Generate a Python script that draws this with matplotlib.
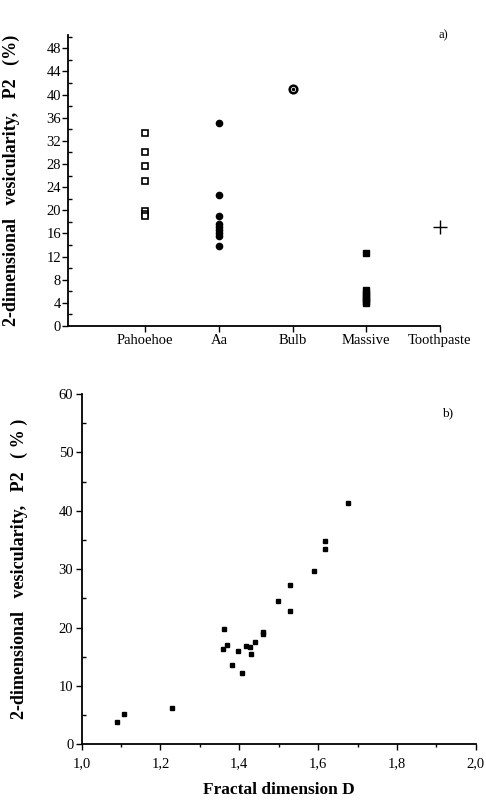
import matplotlib
matplotlib.use("Agg")
import matplotlib.pyplot as plt
from matplotlib.ticker import MultipleLocator, FuncFormatter

plt.rcParams['font.family'] = ['Liberation Serif', 'DejaVu Serif']

# ---- panel a data ----
categories = ["Pahoehoe", "Aa", "Bulb", "Massive", "Toothpaste"]
pahoehoe = [33.4, 30.0, 27.6, 25.0, 19.8, 19.4, 19.0]
aa = [35.0, 22.7, 19.0, 17.6, 17.1, 16.6, 16.1, 15.6, 13.8]
bulb = [41.0]
massive = [12.7, 6.2, 5.7, 5.2, 4.8, 4.4, 4.0]
toothpaste = [17.1]
yticks_a = list(range(0, 49, 4))

# ---- panel b data ----
fractal_D = [1.090, 1.107, 1.230, 1.360, 1.359, 1.370, 1.381, 1.397, 1.407,
             1.418, 1.427, 1.429, 1.440, 1.460, 1.461, 1.499, 1.529, 1.529,
             1.589, 1.617, 1.617, 1.675]
vesic_P2 = [3.9, 5.2, 6.2, 19.7, 16.3, 17.0, 13.6, 16.0, 12.3,
            16.9, 16.7, 15.5, 17.6, 19.3, 18.9, 24.6, 27.3, 22.8,
            29.7, 34.9, 33.5, 41.4]

fig = plt.figure(figsize=(4.86, 8.02), dpi=100)

# ---------------- panel a ----------------
ax1 = fig.add_axes([0.140, 0.5935, 0.765, 0.3629])
ax1.plot([0] * len(pahoehoe), pahoehoe, ls='none', marker='s', ms=4.5,
         mfc='white', mec='black', mew=1.2)
ax1.plot([1] * len(aa), aa, ls='none', marker='o', ms=4.5, mfc='black', mec='black')
ax1.plot([2] * len(bulb), bulb, ls='none', marker='o', ms=5.5, mfc='white',
         mec='black', mew=1.8)
ax1.plot([2] * len(bulb), bulb, ls='none', marker='o', ms=1.5, mfc='black', mec='black')
ax1.plot([3] * len(massive), massive, ls='none', marker='s', ms=5, mfc='black', mec='black')
ax1.plot([4] * len(toothpaste), toothpaste, ls='none', marker='+', ms=10,
         mec='black', mew=1.0, clip_on=False)

ax1.set_xlim(-1.05, 4.0)
ax1.set_ylim(0, 50.3)
ax1.set_xticks(range(len(categories)))
ax1.set_xticklabels(categories, fontsize=10.5)
ax1.set_yticks(yticks_a)
ax1.yaxis.set_minor_locator(MultipleLocator(2))
ax1.tick_params(axis='y', which='major', direction='out', length=4, width=1, labelsize=10.5, pad=1)
ax1.tick_params(axis='y', which='minor', direction='in', length=3, width=1)
ax1.tick_params(axis='x', which='major', direction='out', length=4, width=1, pad=2)
for s in ['top', 'right']:
    ax1.spines[s].set_visible(False)
for s in ['left', 'bottom']:
    ax1.spines[s].set_linewidth(1.3)
ax1.set_ylabel("2-dimensional   vesicularity,   P2   (%)", fontsize=13,
               fontweight='bold')
ax1.yaxis.set_label_coords(-0.13, 0.5)
fig.text(443 / 486, 1 - 35 / 802, "a)", fontsize=9, ha='center', va='center')

# ---------------- panel b ----------------
ax2 = fig.add_axes([0.168, 0.0719, 0.811, 0.4368])
ax2.plot(fractal_D, vesic_P2, ls='none', marker='s', ms=3.2, mfc='black', mec='black')
ax2.set_xlim(1.0, 2.0)
ax2.set_ylim(0, 60)
ax2.xaxis.set_major_locator(MultipleLocator(0.2))
ax2.xaxis.set_minor_locator(MultipleLocator(0.1))
ax2.yaxis.set_major_locator(MultipleLocator(10))
ax2.yaxis.set_minor_locator(MultipleLocator(5))
ax2.xaxis.set_major_formatter(FuncFormatter(lambda v, p: f"{v:.1f}".replace('.', ',')))
ax2.tick_params(axis='y', which='major', direction='out', length=4, width=1, labelsize=10.5, pad=2)
ax2.tick_params(axis='y', which='minor', direction='in', length=3, width=1)
ax2.tick_params(axis='x', which='major', direction='out', length=4, width=1, labelsize=10.5, pad=5)
ax2.tick_params(axis='x', which='minor', direction='out', length=2.5, width=1)
for s in ['top', 'right']:
    ax2.spines[s].set_visible(False)
for s in ['left', 'bottom']:
    ax2.spines[s].set_linewidth(1.3)
ax2.set_ylabel("2-dimensional   vesicularity,   P2   ( % )", fontsize=13,
               fontweight='bold')
ax2.yaxis.set_label_coords(-0.136, 0.5)
ax2.set_xlabel("Fractal dimension D", fontsize=12.5, fontweight='bold', labelpad=9)
fig.text(448 / 486, 1 - 413 / 802, "b)", fontsize=9.5, ha='center', va='center')

fig.savefig("out.png", dpi=100)
